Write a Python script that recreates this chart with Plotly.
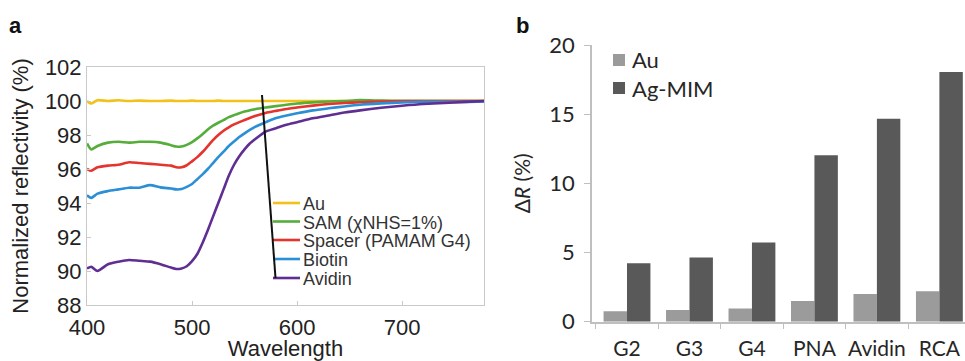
import plotly.graph_objects as go

# ---------------- Panel a data ----------------
wavelength = [400, 404, 410, 420, 430, 440, 450, 460, 470, 480, 485, 490, 495, 500, 505,
              510, 515, 520, 525, 530, 535, 540, 545, 550, 555, 560, 570, 580, 590, 600,
              615, 630, 645, 660, 680, 700, 720, 740, 760, 778]

refl_au = [100.0, 99.85, 100.05, 100.0, 100.04, 100.0, 100.02, 100.0, 100.0, 100.02, 100.0,
           100.0, 100.0, 100.02, 100.0, 100.0, 100.0, 100.0, 100.02, 100.0, 100.0, 100.0,
           100.0, 100.0, 100.0, 100.0, 100.0, 100.0, 100.0, 100.0, 100.0, 100.0, 100.0,
           100.0, 100.0, 100.0, 100.0, 100.0, 100.0, 100.0]

refl_sam = [97.5, 97.15, 97.35, 97.55, 97.6, 97.55, 97.6, 97.6, 97.55, 97.4, 97.32, 97.32,
            97.42, 97.58, 97.8, 98.05, 98.32, 98.55, 98.72, 98.88, 99.05, 99.17, 99.28, 99.38,
            99.45, 99.52, 99.62, 99.7, 99.78, 99.85, 99.92, 99.97, 100.0, 100.05, 100.02,
            100.0, 100.0, 100.0, 100.0, 100.0]

refl_spacer = [96.0, 95.9, 96.1, 96.2, 96.25, 96.4, 96.35, 96.3, 96.25, 96.2, 96.1, 96.1,
               96.22, 96.45, 96.7, 97.0, 97.35, 97.7, 98.0, 98.25, 98.45, 98.62, 98.76, 98.88,
               99.0, 99.12, 99.3, 99.42, 99.53, 99.62, 99.73, 99.82, 99.88, 99.93, 99.97,
               100.0, 100.0, 100.0, 100.0, 100.0]

refl_biotin = [94.45, 94.3, 94.55, 94.7, 94.8, 94.9, 94.9, 95.05, 94.92, 94.85, 94.8, 94.82,
               94.95, 95.12, 95.4, 95.68, 96.0, 96.35, 96.7, 97.02, 97.35, 97.62, 97.88, 98.1,
               98.3, 98.48, 98.75, 99.0, 99.15, 99.28, 99.45, 99.57, 99.68, 99.78, 99.86,
               99.92, 99.95, 99.95, 99.95, 99.98]

refl_avidin = [90.15, 90.25, 90.0, 90.4, 90.55, 90.65, 90.6, 90.55, 90.4, 90.2, 90.12, 90.15,
               90.28, 90.58, 91.0, 91.65, 92.4, 93.2, 94.0, 94.8, 95.6, 96.25, 96.75, 97.15,
               97.5, 97.75, 98.2, 98.4, 98.6, 98.75, 98.98, 99.15, 99.32, 99.45, 99.6,
               99.72, 99.82, 99.88, 99.95, 100.0]

series_names = ["Au", "SAM (\u03c7NHS=1%)", "Spacer (PAMAM G4)", "Biotin", "Avidin"]
series_vals = [refl_au, refl_sam, refl_spacer, refl_biotin, refl_avidin]
series_colors = ["#f2c21b", "#55ad3a", "#e5332d", "#2b8fd6", "#5f2e93"]

# ---------------- Panel b data ----------------
categories = ["G2", "G3", "G4", "PNA", "Avidin", "RCA"]
dR_au = [0.75, 0.85, 0.95, 1.5, 2.0, 2.2]
dR_agmim = [4.23, 4.64, 5.72, 12.03, 14.67, 18.04]
bar_names = ["Au", "Ag-MIM"]
bar_colors = ["#9b9b9b", "#595959"]

W, H = 965, 361
def px(x):
    return x / W
def py(y):
    return 1 - y / H

fig = go.Figure()

for name, vals, col in zip(series_names, series_vals, series_colors):
    fig.add_trace(go.Scatter(x=wavelength, y=vals, mode="lines", name=name,
                             line=dict(color=col, width=2.6, shape="spline", smoothing=0.6),
                             xaxis="x", yaxis="y", showlegend=False))

for name, vals, col in zip(bar_names, [dR_au, dR_agmim], bar_colors):
    fig.add_trace(go.Bar(x=categories, y=vals, name=name, marker=dict(color=col, line=dict(width=0)),
                         xaxis="x2", yaxis="y2", showlegend=False))

arial = "Liberation Sans, Arial, sans-serif"
lato = "Lato, Open Sans, sans-serif"

fig.update_layout(
    width=W, height=H, margin=dict(l=0, r=0, t=0, b=0),
    template="none", paper_bgcolor="white", plot_bgcolor="white",
    barmode="group", bargap=0.25, bargroupgap=0,
    xaxis=dict(domain=[px(87), px(484)], range=[400, 778], dtick=100, tick0=400,
               showgrid=False, zeroline=False, showline=True, mirror=True,
               linecolor="#c9c9c9", linewidth=1, ticks="inside", ticklen=4,
               tickcolor="#c9c9c9", tickfont=dict(family=arial, size=22, color="#222"),
               ticklabelstandoff=3,
               title=dict(text="Wavelength", font=dict(family=arial, size=22, color="#222"),
                          standoff=3),
               automargin=False, anchor="y"),
    yaxis=dict(domain=[py(305), py(67)], range=[88, 102], dtick=2, tick0=88,
               showgrid=False, zeroline=False, showline=True, mirror=True,
               linecolor="#c9c9c9", linewidth=1, ticks="inside", ticklen=4,
               tickcolor="#c9c9c9", tickfont=dict(family=arial, size=22, color="#222"),
               title=dict(text="Normalized reflectivity (%)",
                          font=dict(family=arial, size=22, color="#222"), standoff=10),
               automargin=False, anchor="x"),
    xaxis2=dict(domain=[px(592), 1.0], range=[-0.56, 5.41], type="category",
                showgrid=False, zeroline=False, showline=True, linecolor="#bfbfbf",
                linewidth=1.5, ticks="outside", ticklen=6, tickcolor="#bfbfbf",
                tickson="boundaries", tickangle=0, ticklabelstandoff=7,
                tickfont=dict(family=lato, size=21, color="#262626"),
                automargin=False, anchor="y2"),
    yaxis2=dict(domain=[py(321.7), py(45)], range=[0, 20], dtick=5,
                showgrid=False, zeroline=False, showline=True, linecolor="#bfbfbf",
                linewidth=1.5, ticks="outside", ticklen=6, tickcolor="#bfbfbf",
                tickfont=dict(family=lato, size=22, color="#262626"),
                ticklabelstandoff=5,
                title=dict(text="\u0394<i>R</i> (%)", font=dict(family=lato, size=21, color="#262626"),
                           standoff=13),
                automargin=False, anchor="x2"),
)

annotations = []
shapes = []

# panel letters
annotations.append(dict(text="<b>a</b>", x=px(15), y=py(26), xref="paper", yref="paper",
                        showarrow=False, font=dict(family=arial, size=22, color="#111"),
                        xanchor="center", yanchor="middle"))
annotations.append(dict(text="<b>b</b>", x=px(522), y=py(26), xref="paper", yref="paper",
                        showarrow=False, font=dict(family=arial, size=22, color="#111"),
                        xanchor="center", yanchor="middle"))

# panel a legend (custom, inside plot)
leg_rows = [203, 221.5, 240, 259, 278]
for name, col, yy in zip(series_names, series_colors, leg_rows):
    shapes.append(dict(type="line", xref="paper", yref="paper", x0=px(273), x1=px(300),
                       y0=py(yy), y1=py(yy), line=dict(color=col, width=2.6)))
    annotations.append(dict(text=name, x=px(302), y=py(yy + 1), xref="paper", yref="paper",
                            showarrow=False, xanchor="left", yanchor="middle", borderpad=0,
                            font=dict(family=arial, size=18, color="#333")))
# black pointer line
shapes.append(dict(type="line", xref="paper", yref="paper", x0=px(262), y0=py(95),
                   x1=px(275.5), y1=py(278), line=dict(color="#111", width=2)))

# panel b legend
bleg_rows = [60, 88]
for name, col, yy in zip(bar_names, bar_colors, bleg_rows):
    shapes.append(dict(type="rect", xref="paper", yref="paper", x0=px(613), x1=px(625),
                       y0=py(yy + 6), y1=py(yy - 6), fillcolor=col, line=dict(width=0)))
    annotations.append(dict(text=name, x=px(630), y=py(yy), xref="paper", yref="paper",
                            showarrow=False, xanchor="left", yanchor="middle",
                            font=dict(family=lato, size=22, color="#262626")))

fig.update_layout(annotations=annotations, shapes=shapes)
fig.write_html("out.html")
